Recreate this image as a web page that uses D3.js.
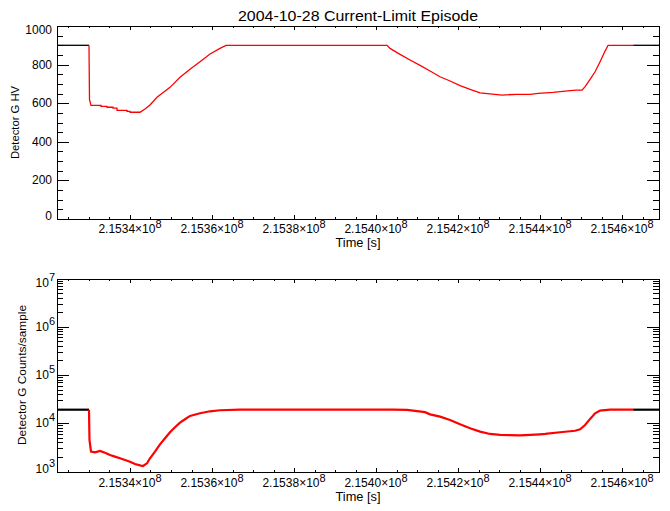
<!DOCTYPE html>
<html><head><meta charset="utf-8">
<script src="https://cdn.jsdelivr.net/npm/d3@7"></script>
<style>
body{margin:0;background:#fff;}
text{font-family:"Liberation Sans",Arial,sans-serif;fill:#000;}
</style></head>
<body><svg id="c" width="670" height="511"></svg>
<script>
// ---- data ----
const titleText = "2004-10-28 Current-Limit Episode";
const xTitle = "Time [s]";
const topYTitle = "Detector G HV";
const botYTitle = "Detector G Counts/sample";
const timeDomain = [215322200, 215469000];
const episodeStart = 215330000, episodeEnd = 215462700;
const xMajorTicks = [215340000, 215360000, 215380000, 215400000, 215420000, 215440000, 215460000];
const hvTicks = [0, 200, 400, 600, 800, 1000];
const countTicks = [1e3, 1e4, 1e5, 1e6, 1e7];

const hvTime = [215322200, 215330000, 215330122, 215330488, 215332927, 215332930, 215334390, 215334393,
  215335854, 215335857, 215336829, 215336832, 215339268, 215339271, 215340000, 215340003, 215342439,
  215343659, 215344878, 215346585, 215349756, 215352195, 215354634, 215357073, 215359512, 215361951,
  215363414, 215402682, 215403414, 215405853, 215408292, 215410731, 215413170, 215415609, 215418048,
  215420487, 215422926, 215425365, 215427804, 215430731, 215434145, 215437560, 215439511, 215443170,
  215446097, 215448780, 215450243, 215450975, 215452194, 215453414, 215454633, 215455853, 215456585,
  215469000];
const hvValue = [900, 900, 620, 589, 589, 584, 584, 579,
  579, 574, 574, 563, 563, 558, 558, 553, 553,
  570, 591, 631, 682, 734, 776, 815, 855, 884,
  900, 900, 884, 853, 824, 796, 767, 737, 715,
  691, 672, 654, 648, 642, 646, 646, 651, 656,
  663, 668, 668, 686, 724, 763, 815, 870, 900,
  900];

const countTime = [215322200, 215330000, 215330122, 215330488, 215331463, 215332683, 215333902, 215335122,
  215336341, 215337561, 215338780, 215340000, 215341220, 215342439, 215343171, 215344146, 215344878,
  215346098, 215347317, 215348537, 215349756, 215350976, 215352195, 215353415, 215354634, 215357073,
  215359512, 215361951, 215366829, 215404146, 215407561, 215409512, 215411951, 215413170, 215415609,
  215418048, 215420487, 215422926, 215425365, 215427804, 215430243, 215435121, 215440000, 215441219,
  215444878, 215448536, 215449756, 215450975, 215452194, 215453414, 215454633, 215457073, 215469000];
const countValue = [19100, 19100, 4500, 2580, 2500, 2660, 2450, 2200,
  2030, 1880, 1730, 1600, 1430, 1340, 1300, 1480, 1880,
  2580, 3660, 4880, 6500, 8270, 10300, 12100, 14200, 16100,
  17700, 18600, 19100, 19100, 18900, 18000, 17000, 15300, 13700,
  11700, 9500, 7880, 6700, 6000, 5720, 5630, 5900, 6000,
  6500, 7000, 7500, 9200, 12300, 16100, 18300, 19100, 19100];

// ---- layout ----
const svg = d3.select("#c");
const L = 57, R = 659;
const panels = [
  {top: 26, bottom: 219, log: false, time: hvTime, vals: hvValue, ticks: hvTicks, yTitle: topYTitle,
   yTitleX: 15, lw: 1.3, labBase: 233, titleBase: 247, yTitleLen: 73},
  {top: 278.5, bottom: 471.5, log: true, time: countTime, vals: countValue, ticks: countTicks, yTitle: botYTitle,
   yTitleX: 22, lw: 2.2, labBase: 487, titleBase: 501, yTitleLen: 140}
];

svg.append("text").attr("x", (L + R) / 2).attr("y", 21).attr("text-anchor", "middle")
  .attr("font-size", 14).attr("textLength", 240).attr("lengthAdjust", "spacingAndGlyphs").text(titleText);

const x = d3.scaleLinear().domain(timeDomain).range([L, R]);

panels.forEach(p => {
  const y = p.log ? d3.scaleLog().domain([1e3, 1e7]).range([p.bottom, p.top])
                  : d3.scaleLinear().domain([0, 1000]).range([p.bottom, p.top]);
  const g = svg.append("g");
  const xMinor = d3.range(timeDomain[0] - (timeDomain[0] % 5000) + 5000, timeDomain[1], 5000)
    .filter(t => !xMajorTicks.includes(t));
  let yMinor = [];
  if (p.log) {
    for (let e = 3; e < 7; e++) for (let m = 2; m <= 9; m++) yMinor.push(m * Math.pow(10, e));
  } else {
    yMinor = d3.range(50, 1000, 50).filter(v => v % 200 !== 0);
  }
  const tk = g.append("g").attr("stroke", "#000").attr("stroke-width", 1).attr("shape-rendering", "crispEdges");
  const xMaj = 4, xMin = 2, yMaj = 12, yMin = 6;
  xMajorTicks.forEach(t => {
    const xx = Math.round(x(t)) + 0.5;
    tk.append("line").attr("x1", xx).attr("x2", xx).attr("y1", p.bottom).attr("y2", p.bottom - xMaj);
    tk.append("line").attr("x1", xx).attr("x2", xx).attr("y1", p.top).attr("y2", p.top + xMaj);
  });
  xMinor.forEach(t => {
    const xx = Math.round(x(t)) + 0.5;
    tk.append("line").attr("x1", xx).attr("x2", xx).attr("y1", p.bottom).attr("y2", p.bottom - xMin);
    tk.append("line").attr("x1", xx).attr("x2", xx).attr("y1", p.top).attr("y2", p.top + xMin);
  });
  p.ticks.forEach(v => {
    const yy = Math.round(y(v)) + 0.5;
    tk.append("line").attr("x1", L).attr("x2", L + yMaj).attr("y1", yy).attr("y2", yy);
    tk.append("line").attr("x1", R).attr("x2", R - yMaj).attr("y1", yy).attr("y2", yy);
  });
  yMinor.forEach(v => {
    const yy = Math.round(y(v)) + 0.5;
    tk.append("line").attr("x1", L).attr("x2", L + yMin).attr("y1", yy).attr("y2", yy);
    tk.append("line").attr("x1", R).attr("x2", R - yMin).attr("y1", yy).attr("y2", yy);
  });
  g.append("rect").attr("x", L + 0.5).attr("y", Math.round(p.top) + 0.5)
    .attr("width", R - L).attr("height", Math.round(p.bottom) - Math.round(p.top))
    .attr("fill", "none").attr("stroke", "#000").attr("shape-rendering", "crispEdges");

  // x tick labels
  xMajorTicks.forEach(t => {
    const tx = g.append("text").attr("x", x(t)).attr("y", p.labBase).attr("text-anchor", "middle")
      .attr("font-size", 12);
    tx.append("tspan").text((t / 1e8).toFixed(4) + "\u00d710");
    tx.append("tspan").attr("dy", -5).attr("font-size", 11).text("8");
  });
  g.append("text").attr("x", (L + R) / 2).attr("y", p.titleBase).attr("text-anchor", "middle")
    .attr("font-size", 12).attr("textLength", 45).attr("lengthAdjust", "spacingAndGlyphs").text(xTitle);

  // y tick labels
  p.ticks.forEach(v => {
    let yy = y(v);
    yy = Math.max(p.top + 4, Math.min(p.bottom - 3, yy));
    if (p.log) {
      const e = Math.round(Math.log10(v));
      const tx = g.append("text").attr("x", 55).attr("y", yy + 4).attr("text-anchor", "end")
        .attr("font-size", 12);
      tx.append("tspan").text("10");
      tx.append("tspan").attr("dy", -6).attr("font-size", 11).text(String(e));
    } else {
      g.append("text").attr("x", 52).attr("y", yy + 4).attr("text-anchor", "end")
        .attr("font-size", 12).text(String(v));
    }
  });
  g.append("text").attr("transform", `translate(${p.yTitleX + 4},${(p.top + p.bottom) / 2}) rotate(-90)`)
    .attr("text-anchor", "middle").attr("font-size", 11.5)
    .attr("textLength", p.yTitleLen).attr("lengthAdjust", "spacingAndGlyphs").text(p.yTitle);

  // data: black outside the episode, red during it
  const pts = p.time.map((t, i) => [t, p.vals[i]]);
  const line = d3.line().x(d => x(d[0])).y(d => y(d[1]));
  const pre = pts.filter(d => d[0] <= episodeStart);
  const post = pts.filter(d => d[0] >= episodeEnd);
  const ep = pts.filter(d => d[0] >= episodeStart && d[0] <= episodeEnd);
  const endVal = ep[ep.length - 1][1];
  ep.push([episodeEnd, endVal]);
  post.unshift([episodeEnd, endVal]);
  [pre, post].forEach(seg => g.append("path").datum(seg).attr("d", line).attr("fill", "none")
    .attr("stroke", "#000").attr("stroke-width", p.lw));
  g.append("path").datum(ep).attr("d", line).attr("fill", "none").attr("stroke", "#ff0000")
    .attr("stroke-width", p.lw);
});
</script></body></html>
